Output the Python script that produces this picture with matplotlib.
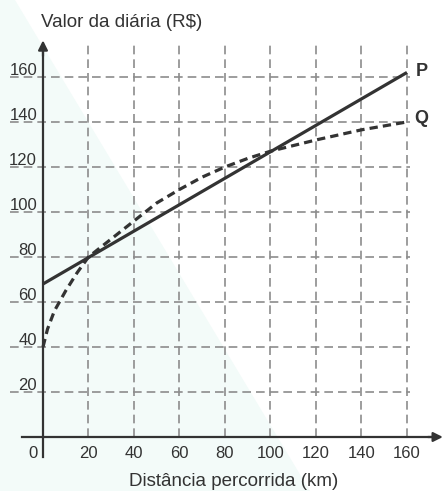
import matplotlib

matplotlib.use("Agg")
import matplotlib.pyplot as plt
from matplotlib.patches import Polygon

# data
ticks = [20, 40, 60, 80, 100, 120, 140, 160]
p_x = [0, 160]
p_y = [68, 162]
q_x = [0, 2, 5, 10, 15, 20, 30, 40, 50, 60, 70, 80, 90, 100, 120, 140, 160]
q_y = [40, 48, 56, 65, 73, 80, 88, 96, 104, 110, 115.5, 120, 123.8, 127, 132, 136.5, 140]

title = "Valor da diária (R$)"
xlabel = "Distância percorrida (km)"

plt.rcParams["font.family"] = ["Liberation Sans", "DejaVu Sans"]
ink = "#333333"
grid_c = "#8c8c8c"
fs_tick = 12
fs_lab = 13.5

fig = plt.figure(figsize=(4.47, 4.91), dpi=100)
ax = fig.add_axes([0, 0, 1, 1])
ax.set_xlim(-18.9, 177.6)
ax.set_ylim(-24, 194.2)
ax.axis("off")

# pale watermark triangle on the left
ax.add_patch(Polygon([(0, 1), (15 / 447, 1), (310 / 447, 0), (0, 0)],
                     closed=True, transform=ax.transAxes,
                     facecolor="#f3fbf9", edgecolor="none", zorder=0))

# dashed grid
for t in ticks:
    ax.plot([-14.5, 161.3], [t, t], color=grid_c, lw=1.2,
            dashes=[5.2, 3.0], zorder=1)
    ax.plot([t, t], [0, 175], color=grid_c, lw=1.2,
            dashes=[5.2, 3.0], zorder=1)

# axes with arrows
ax.plot([0, 0], [-8.9, 172], color=ink, lw=1.6, zorder=3)
ax.plot([-9.2, 172], [0, 0], color=ink, lw=1.6, zorder=3)
ax.annotate("", xy=(0, 177.5), xytext=(0, 168),
            arrowprops=dict(arrowstyle="-|>", color=ink, lw=1.6,
                            mutation_scale=14), zorder=3)
ax.annotate("", xy=(177, 0), xytext=(168, 0),
            arrowprops=dict(arrowstyle="-|>", color=ink, lw=1.6,
                            mutation_scale=14), zorder=3)

# tick labels
for t in ticks:
    ax.text(-2.6, t + 0.8, str(t), ha="right", va="baseline",
            fontsize=fs_tick, color=ink, zorder=4)
    ax.text(t, -7.2, str(t), ha="center", va="center",
            fontsize=fs_tick, color=ink, zorder=4)
ax.text(-4.4, -7.2, "0", ha="center", va="center", fontsize=fs_tick, color=ink)

ax.text(34.7, 184.4, title, ha="center", va="center", fontsize=fs_lab, color=ink)
ax.text(84, -19.6, xlabel, ha="center", va="center", fontsize=fs_lab, color=ink)

# curves
ax.plot(p_x, p_y, color=ink, lw=2.3, solid_capstyle="butt", zorder=5)
ax.plot(q_x, q_y, color=ink, lw=2.3, dashes=[2.6, 1.6], zorder=5)
ax.text(164, 162.5, "P", fontsize=13, fontweight="bold", color=ink,
        ha="left", va="center")
ax.text(163, 141.5, "Q", fontsize=13, fontweight="bold", color=ink,
        ha="left", va="center")

fig.savefig("out.png", dpi=100)
plt.close(fig)
